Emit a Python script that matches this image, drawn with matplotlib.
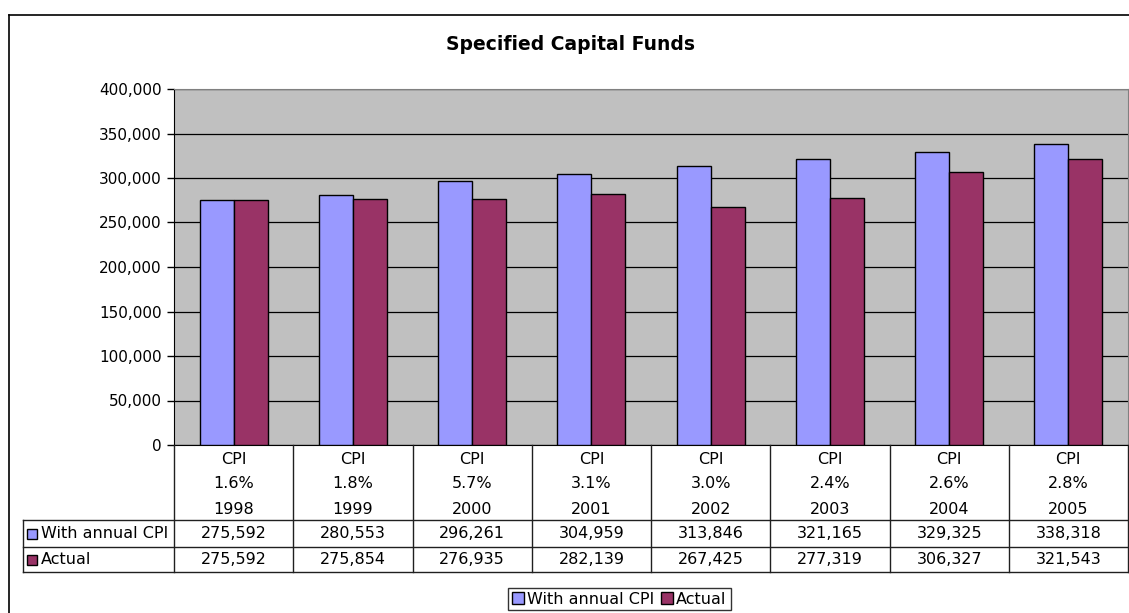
import matplotlib
matplotlib.use('Agg')
import matplotlib.pyplot as plt
import numpy as np
from matplotlib.patches import Rectangle

years = ['1998', '1999', '2000', '2001', '2002', '2003', '2004', '2005']
cpi = ['1.6%', '1.8%', '5.7%', '3.1%', '3.0%', '2.4%', '2.6%', '2.8%']
with_cpi = [275592, 280553, 296261, 304959, 313846, 321165, 329325, 338318]
actual = [275592, 275854, 276935, 282139, 267425, 277319, 306327, 321543]
series = ['With annual CPI', 'Actual']
colors = ['#9999FF', '#993366']

W, H = 1129, 613
plt.rcParams['font.family'] = 'DejaVu Sans'
fig = plt.figure(figsize=(W / 100, H / 100), dpi=100)

# outer chart border (top and left visible in the original)
fig.add_artist(plt.Line2D([9 / W, 1], [1 - 15 / H, 1 - 15 / H], color='black', lw=1.2))
fig.add_artist(plt.Line2D([9 / W, 9 / W], [0, 1 - 15 / H], color='black', lw=1.2))

fig.text(570 / W, 1 - 45 / H, 'Specified Capital Funds', ha='center', va='center',
         fontsize=13.5, fontweight='bold')

# plot area
ax = fig.add_axes([174 / W, 1 - 445 / H, (1128 - 174) / W, (445 - 89) / H])
ax.set_facecolor('#C0C0C0')
x = np.arange(len(years))
bw = 0.285
ax.bar(x - bw / 2, with_cpi, bw, color=colors[0], edgecolor='black', lw=1, zorder=3)
ax.bar(x + bw / 2, actual, bw, color=colors[1], edgecolor='black', lw=1, zorder=3)
ax.set_xlim(-0.5, len(years) - 0.5)
ax.set_ylim(0, 400000)
ax.set_yticks(np.arange(0, 400001, 50000))
ax.set_yticklabels([f'{v:,}' for v in range(0, 400001, 50000)], fontsize=11)
ax.yaxis.grid(True, color='black', lw=0.9, zorder=1)
ax.set_xticks([])
ax.tick_params(axis='y', length=5, width=1, pad=4)
for s in ['top', 'right']:
    ax.spines[s].set_color('#808080')
ax.spines['left'].set_color('black')
ax.spines['bottom'].set_color('black')

# data table under the plot, pixel y units
tab = fig.add_axes([174 / W, 1 - 572 / H, (1128 - 174) / W, (572 - 445) / H])
tab.set_xlim(-0.5, len(years) - 0.5)
tab.set_ylim(572, 445)
tab.axis('off')
colw = (1128 - 174) / len(years)


def px(p):
    return (p - 174) / colw - 0.5


lc = '#202020'
left = px(23)
for yy in [520, 547, 572]:
    tab.plot([left, len(years) - 0.5], [yy, yy], color=lc, lw=1, clip_on=False)
for k in range(len(years) + 1):
    tab.plot([k - 0.5, k - 0.5], [445, 572], color=lc, lw=1, clip_on=False)
tab.plot([left, left], [520, 572], color=lc, lw=1, clip_on=False)

fs = 11.5
for i in range(len(years)):
    tab.text(i, 459, 'CPI', ha='center', va='center', fontsize=fs)
    tab.text(i, 484, cpi[i], ha='center', va='center', fontsize=fs)
    tab.text(i, 509, years[i], ha='center', va='center', fontsize=fs)
    tab.text(i, 533.5, f'{with_cpi[i]:,}', ha='center', va='center', fontsize=fs)
    tab.text(i, 559.5, f'{actual[i]:,}', ha='center', va='center', fontsize=fs)

for name, c, yy in zip(series, colors, [533.5, 559.5]):
    tab.add_patch(Rectangle((px(27), yy - 5), px(37) - px(27), 10, facecolor=c,
                            edgecolor='black', lw=1, clip_on=False))
    tab.text(px(41), yy, name, ha='left', va='center', fontsize=fs, clip_on=False)

# legend
handles = [Rectangle((0, 0), 1, 1, facecolor=c, edgecolor='black', lw=1) for c in colors]
leg = fig.legend(handles, series, loc='center', bbox_to_anchor=(619.5 / W, 1 - 599 / H),
                 ncol=2, fontsize=fs, frameon=True, fancybox=False, edgecolor='black',
                 handlelength=0.75, handleheight=0.75, handletextpad=0.2, columnspacing=0.4,
                 borderpad=0.25, borderaxespad=0)
leg.get_frame().set_linewidth(1)

fig.savefig('out.png', dpi=100)
